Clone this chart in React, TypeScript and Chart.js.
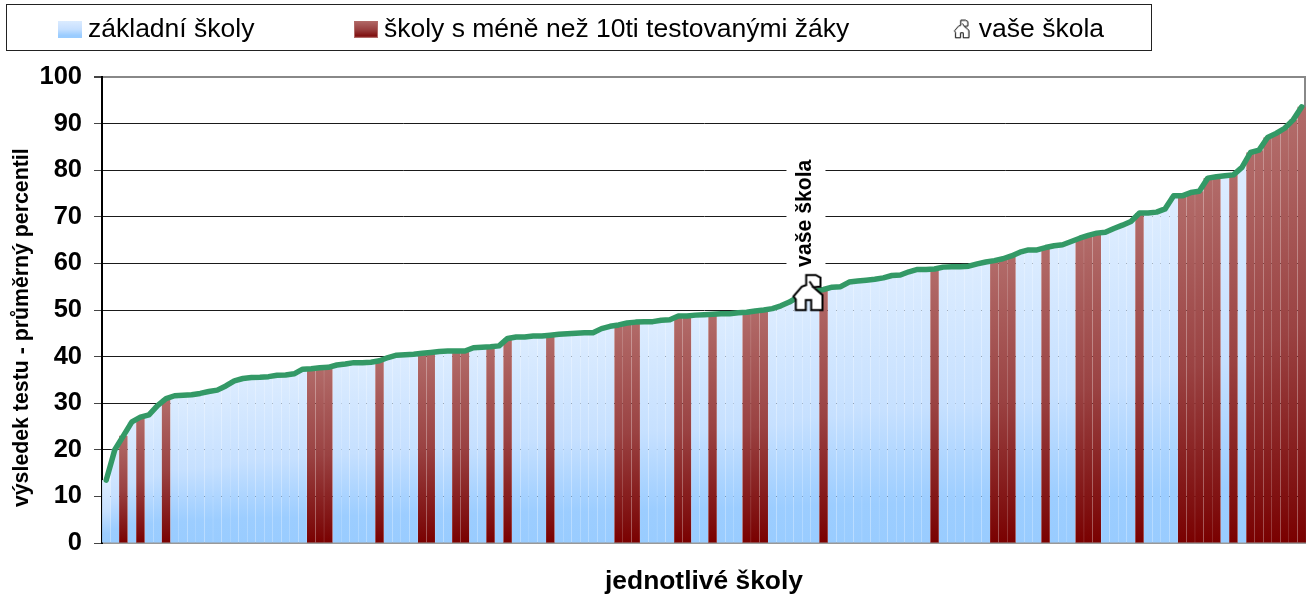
import React, { useEffect, useRef } from "react";
import { Chart, registerables } from "chart.js";

Chart.register(...registerables);

const FONT = "'Liberation Sans', Arial, sans-serif";

const legendLabels = ["základní školy", "školy s méně než 10ti testovanými žáky", "vaše škola"];
const yTitle = "výsledek testu - průměrný percentil      ";
const xTitle = "jednotlivé školy";
const houseLabel = "vaše škola";
const yTicks = [0, 10, 20, 30, 40, 50, 60, 70, 80, 90, 100];

const schoolValues = [
  13.5, 20, 23, 26, 27, 27.5, 29.5, 31, 31.6, 31.7,
  31.8, 32.1, 32.5, 32.8, 33.7, 34.8, 35.3, 35.5, 35.55, 35.7,
  36, 36.05, 36.3, 37.3, 37.4, 37.6, 37.7, 38.2, 38.4, 38.7,
  38.7, 38.8, 39.1, 39.8, 40.3, 40.4, 40.5, 40.7, 40.9, 41.1,
  41.2, 41.2, 41.2, 41.9, 42, 42.1, 42.3, 43.9, 44.2, 44.2,
  44.4, 44.4, 44.6, 44.8, 44.9, 45, 45.1, 45.1, 46, 46.5,
  46.8, 47.2, 47.4, 47.5, 47.5, 47.8, 47.9, 48.7, 48.7, 48.9,
  49, 49.1, 49.2, 49.2, 49.4, 49.5, 49.8, 50, 50.3, 50.9,
  51.7, 52.8, 53.8, 54, 54.4, 54.9, 55, 56, 56.2, 56.4,
  56.6, 56.9, 57.4, 57.5, 58.2, 58.7, 58.7, 58.8, 59.2, 59.3,
  59.3, 59.4, 59.9, 60.3, 60.6, 61, 61.6, 62.4, 62.9, 62.9,
  63.4, 63.8, 64, 64.7, 65.4, 66, 66.5, 66.7, 67.5, 68.2,
  69, 70.8, 70.8, 71, 71.7, 74.5, 74.5, 75.2, 75.5, 78.3,
  78.6, 78.8, 79, 80.6, 83.8, 84.3, 87, 87.9, 89, 90.8,
  93.6,
];

const smallSchoolIndices = [
  2, 4, 7, 24, 25, 26, 32, 37, 38, 41, 42, 45, 47, 52, 60, 61, 62, 67, 68, 71,
  75, 76, 77, 84, 97, 104, 105, 106, 110, 114, 115, 116, 121, 126, 127, 128,
  129, 130, 132, 134, 135, 136, 137, 138, 139, 140,
];
const yourSchoolIndex = 82;
const yourSchoolValue = 53.8;

const categories = schoolValues.map((_, i) => String(i + 1));
const regularBars = schoolValues.map((v, i) => (smallSchoolIndices.includes(i) ? null : v));
const smallBars = schoolValues.map((v, i) => (smallSchoolIndices.includes(i) ? v : null));
const yourSchool = schoolValues.map((_, i) => (i === yourSchoolIndex ? yourSchoolValue : null));

const BLUE_STOPS: [number, string][] = [[0, "#dcecff"], [0.5, "#c6e0ff"], [0.85, "#9ccdff"], [1, "#99ccff"]];
const RED_STOPS: [number, string][] = [[0, "#b26b69"], [0.5, "#9a4242"], [0.9, "#7f0f0f"], [1, "#7a0000"]];

function barGradient(stops: [number, string][]) {
  return (ctx: any) => {
    const chart = ctx.chart;
    const y = chart.scales?.y;
    if (!y || ctx.type !== "data" || ctx.raw == null) return stops[0][1];
    const g = chart.ctx.createLinearGradient(0, y.getPixelForValue(ctx.raw), 0, y.getPixelForValue(0));
    stops.forEach(([o, c]) => g.addColorStop(o, c));
    return g;
  };
}

function swatch(stops: [number, string][], border: string) {
  const c = document.createElement("canvas");
  c.width = 24;
  c.height = 17;
  const x = c.getContext("2d")!;
  const g = x.createLinearGradient(0, 0, 0, 17);
  stops.forEach(([o, col]) => g.addColorStop(o, col));
  x.fillStyle = g;
  x.fillRect(0, 0, 24, 17);
  if (border) {
    x.strokeStyle = border;
    x.strokeRect(0.5, 0.5, 23, 16);
  }
  return c;
}

function house(scale: number, lineWidth: number) {
  const w = Math.round(36 * scale);
  const h = Math.round(39 * scale);
  const c = document.createElement("canvas");
  c.width = w;
  c.height = h;
  const x = c.getContext("2d")!;
  x.scale(scale, scale);
  x.translate(4, 0.5);
  const outline = [
    [3.3, 36.7], [3.3, 26], [1, 23], [9.3, 13.3], [13.7, 11.7], [13.7, 1.7], [23.3, 1.7], [28, 4.3],
    [28, 13.3], [21, 14], [30, 21.7], [30, 36.7], [18.7, 36.7], [18.7, 26.7], [13.3, 26.7], [13.3, 36.7],
  ];
  x.beginPath();
  outline.forEach(([a, b], i) => (i ? x.lineTo(a, b) : x.moveTo(a, b)));
  x.closePath();
  x.fillStyle = "#fff";
  x.fill();
  x.strokeStyle = "#000";
  x.lineWidth = lineWidth;
  x.lineJoin = "miter";
  x.stroke();
  x.beginPath();
  x.moveTo(17, 8);
  x.lineTo(21, 14);
  x.stroke();
  return c;
}

export default function App() {
  const ref = useRef<HTMLCanvasElement>(null);

  useEffect(() => {
    const houseBig = house(1, 2);
    const houseSmall = house(0.5, 2);
    const legendIcons = [swatch(BLUE_STOPS, ""), swatch(RED_STOPS, "#b26b69"), houseSmall];

    const framePlugin = {
      id: "frame",
      afterLayout(chart: any) {
        const lg = chart.legend;
        const pad = lg.options.labels.padding;
        lg.left = 65.25 - pad;
        lg.right = 1306;
        lg.top = 16 - pad;
        lg.bottom = 60;
      },
      beforeDraw(chart: any) {
        const c = chart.ctx;
        c.save();
        c.strokeStyle = "#222";
        c.lineWidth = 1;
        c.strokeRect(6.5, 4.5, 1145, 46);
        c.restore();
      },
      beforeDatasetsDraw(chart: any) {
        const { ctx: c, chartArea: a } = chart;
        c.save();
        c.strokeStyle = "#888";
        c.lineWidth = 2;
        c.beginPath();
        c.moveTo(a.right - 1, a.top);
        c.lineTo(a.right - 1, a.bottom);
        c.stroke();
        c.restore();
      },
      afterDatasetsDraw(chart: any) {
        const meta = chart.getDatasetMeta(3);
        const pt = meta.data[yourSchoolIndex];
        if (!pt) return;
        const c = chart.ctx;
        const cx = chart.scales.x.getPixelForValue(yourSchoolIndex);
        const yBase = pt.y;
        c.save();
        c.fillStyle = "#fff";
        c.fillRect(cx - 20, yBase - 136, 39, 113);
        c.translate(cx - 1, yBase - 79);
        c.rotate(-Math.PI / 2);
        c.fillStyle = "#000";
        c.font = `bold 21.2px ${FONT}`;
        c.textAlign = "center";
        c.textBaseline = "middle";
        c.fillText(houseLabel, 0, 0);
        c.restore();
      },
    };

    const chart = new Chart(ref.current!, {
      data: {
        labels: categories,
        datasets: [
          {
            type: "bar",
            label: legendLabels[0],
            data: regularBars,
            backgroundColor: barGradient(BLUE_STOPS),
            borderWidth: 0,
            grouped: false,
            barPercentage: 0.985,
            categoryPercentage: 1,
            order: 3,
          },
          {
            type: "bar",
            label: legendLabels[1],
            data: smallBars,
            backgroundColor: barGradient(RED_STOPS),
            borderWidth: 0,
            grouped: false,
            barPercentage: 0.985,
            categoryPercentage: 1,
            order: 2,
          },
          {
            type: "line",
            label: "průměrný percentil",
            data: schoolValues,
            borderColor: "#339966",
            borderWidth: 5.5,
            borderJoinStyle: "round",
            borderCapStyle: "round",
            pointRadius: 0,
            tension: 0,
            fill: false,
            order: 1,
          },
          {
            type: "line",
            label: legendLabels[2],
            data: yourSchool,
            showLine: false,
            pointStyle: houseBig,
            pointRadius: 14,
            order: 0,
          },
        ],
      } as any,
      options: {
        responsive: false,
        animation: false,
        events: [],
        layout: { autoPadding: false, padding: { top: 17, left: 0, right: 0, bottom: 0 } },
        plugins: {
          title: { display: false },
          tooltip: { enabled: false },
          legend: {
            position: "top",
            align: "start",
            maxHeight: 60,
            labels: {
              usePointStyle: true,
              boxWidth: 9.5,
              padding: 106.75,
              color: "#000",
              font: { family: FONT, size: 26.5 },
              generateLabels: () =>
                legendLabels.map((text, i) => ({
                  text,
                  pointStyle: legendIcons[i],
                  hidden: false,
                  lineWidth: 0,
                  datasetIndex: i,
                })),
            },
          },
        },
        scales: {
          x: {
            type: "category",
            offset: true,
            grid: { display: false },
            border: { color: "#999", width: 2 },
            ticks: { display: false },
            title: {
              display: true,
              text: xTitle,
              color: "#000",
              font: { family: FONT, size: 26.4, weight: "bold" },
              padding: { top: 0, bottom: -2 },
            },
            afterFit(s: any) {
              s.height = 53;
            },
          },
          y: {
            type: "linear",
            min: 0,
            max: 100,
            afterBuildTicks(s: any) {
              s.ticks = yTicks.map((value) => ({ value }));
            },
            grid: {
              color: (c: any) => (c.tick?.value === 100 ? "#888" : "#1a1a1a"),
              lineWidth: (c: any) => (c.tick?.value === 100 ? 2 : 1),
              tickLength: 8,
              tickColor: "#444",
            },
            border: { color: "#000", width: 2 },
            ticks: {
              color: "#000",
              padding: 12,
              font: { family: FONT, size: 25.5, weight: "bold" },
            },
            title: {
              display: true,
              text: yTitle,
              color: "#000",
              font: { family: FONT, size: 21.3, weight: "bold" },
              padding: { top: 9, bottom: 0 },
            },
            afterFit(s: any) {
              s.width = 102;
            },
          },
        },
      },
      plugins: [framePlugin],
    } as any);

    return () => chart.destroy();
  }, []);

  return (
    <canvas
      ref={ref}
      width={1306}
      height={596}
      style={{ position: "fixed", left: 0, top: 0, display: "block" }}
    />
  );
}
